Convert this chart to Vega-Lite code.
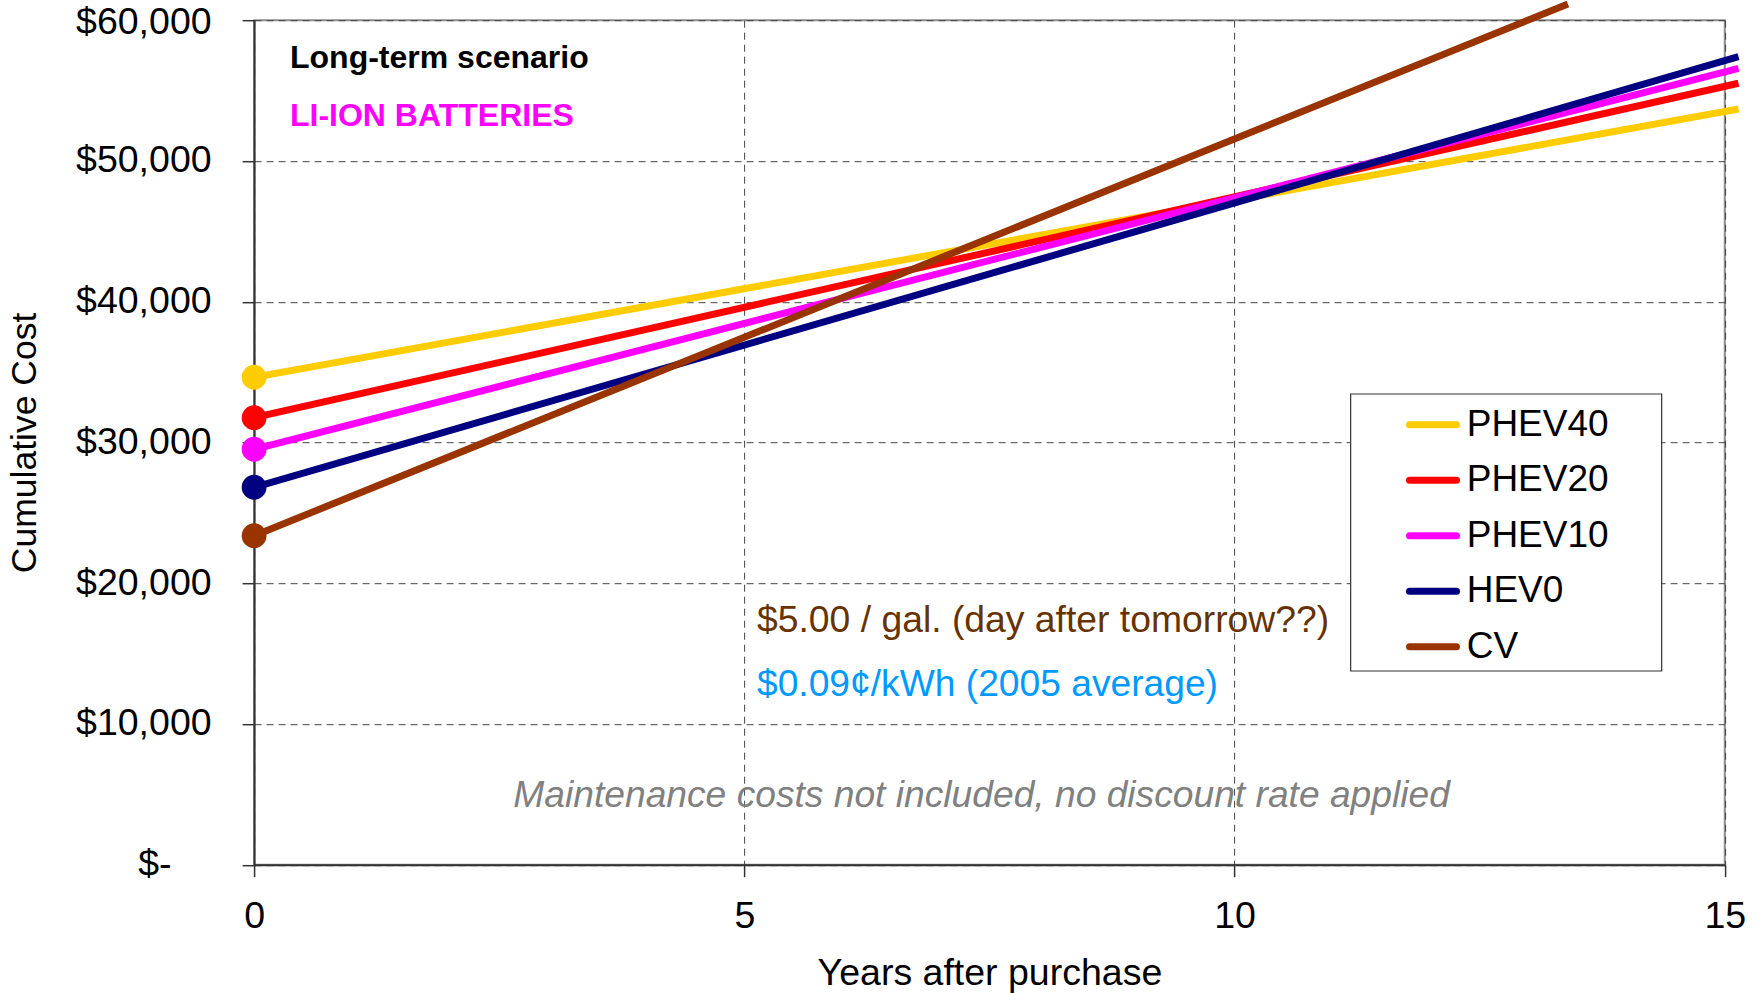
{
  "$schema": "https://vega.github.io/schema/vega-lite/v6.json",
  "width": 1470.7,
  "height": 844.5,
  "autosize": {"type": "none"},
  "padding": {"left": 254.1, "top": 20.2, "right": 38.2, "bottom": 128.3},
  "background": "white",
  "config": {
    "font": "Liberation Sans",
    "view": {"stroke": "#8c8c8c", "strokeWidth": 2},
    "axis": {
      "labelFont": "Liberation Sans",
      "titleFont": "Liberation Sans",
      "labelColor": "#000000",
      "titleColor": "#000000",
      "labelFontSize": 37.5,
      "titleFontWeight": "normal",
      "domainColor": "#333333",
      "domainWidth": 2,
      "tickColor": "#333333",
      "tickWidth": 1.5,
      "tickSize": 12,
      "grid": true,
      "gridColor": "#444444",
      "gridDash": [7, 5],
      "gridWidth": 1,
      "labelFlush": false,
      "labelOverlap": false
    }
  },
  "data": {
    "values": [
      {"vehicle": "PHEV40", "year": 0, "cost": 34630},
      {"vehicle": "PHEV40", "year": 15.14, "cost": 53690},
      {"vehicle": "PHEV20", "year": 0, "cost": 31760},
      {"vehicle": "PHEV20", "year": 15.14, "cost": 55520},
      {"vehicle": "PHEV10", "year": 0, "cost": 29515},
      {"vehicle": "PHEV10", "year": 15.14, "cost": 56580},
      {"vehicle": "HEV0", "year": 0, "cost": 26815},
      {"vehicle": "HEV0", "year": 15.14, "cost": 57410},
      {"vehicle": "CV", "year": 0, "cost": 23375},
      {"vehicle": "CV", "year": 13.4, "cost": 61150}
    ]
  },
  "layer": [
    {
      "data": {"values": [{}]},
      "mark": {"type": "rect", "fill": "#ffffff", "stroke": "#333333", "strokeWidth": 1.2},
      "encoding": {
        "x": {"datum": 11.184, "type": "quantitative"},
        "x2": {"datum": 14.356},
        "y": {"datum": 33442, "type": "quantitative"},
        "y2": {"datum": 13762}
      }
    },
    {
      "mark": {"type": "line", "strokeWidth": 7, "strokeJoin": "round", "clip": false},
      "encoding": {
        "x": {
          "field": "year",
          "type": "quantitative",
          "scale": {"domain": [0, 15], "nice": false, "zero": false},
          "axis": {
            "values": [0, 5, 10, 15],
            "format": "d",
            "title": "Years after purchase",
            "titleFontSize": 37.5,
            "labelPadding": 20.5,
            "titlePadding": 20
          }
        },
        "y": {
          "field": "cost",
          "type": "quantitative",
          "scale": {"domain": [0, 60000], "nice": false},
          "axis": {
            "values": [0, 10000, 20000, 30000, 40000, 50000, 60000],
            "labelExpr": "datum.value == 0 ? '$-' : '$' + format(datum.value, ',')",
            "labelPadding": {"condition": {"test": "datum.value == 0", "value": 71}, "value": 31},
            "labelOffset": {"condition": {"test": "datum.value == 60000", "value": 2}, "value": 0},
            "title": "Cumulative Cost",
            "titleFontSize": 35.5,
            "titlePadding": 33
          }
        },
        "color": {
          "field": "vehicle",
          "type": "nominal",
          "scale": {
            "domain": ["PHEV40", "PHEV20", "PHEV10", "HEV0", "CV"],
            "range": ["#FFCC00", "#FF0000", "#FF00FF", "#000080", "#993300"]
          },
          "legend": {
            "orient": "none",
            "legendX": 1151.9,
            "legendY": 377.5,
            "title": null,
            "padding": 0,
            "symbolType": "stroke",
            "symbolSize": 2209,
            "symbolStrokeWidth": 7,
            "symbolOffset": 0,
            "labelOffset": 6.7,
            "labelFont": "Liberation Sans",
            "labelFontSize": 37,
            "labelColor": "#000000",
            "labelLimit": 0,
            "rowPadding": 10.5,
            "encode": {"symbols": {"update": {"strokeCap": {"value": "round"}}}}
          }
        }
      }
    },
    {
      "transform": [{"filter": "datum.year == 0"}],
      "mark": {"type": "circle", "size": 616, "opacity": 1, "clip": false},
      "encoding": {
        "x": {"field": "year", "type": "quantitative"},
        "y": {"field": "cost", "type": "quantitative"},
        "color": {"field": "vehicle", "type": "nominal", "legend": null}
      }
    },
    {
      "data": {"values": [{}]},
      "mark": {"type": "text", "text": "Long-term scenario", "align": "left", "baseline": "middle", "fontSize": 32, "fontWeight": "bold", "color": "#000000"},
      "encoding": {"x": {"datum": 0.366}, "y": {"datum": 57300}}
    },
    {
      "data": {"values": [{}]},
      "mark": {"type": "text", "text": "LI-ION BATTERIES", "align": "left", "baseline": "middle", "fontSize": 32, "fontWeight": "bold", "color": "#FF00FF"},
      "encoding": {"x": {"datum": 0.366}, "y": {"datum": 53170}}
    },
    {
      "data": {"values": [{}]},
      "mark": {"type": "text", "text": "$5.00 / gal. (day after tomorrow??)", "align": "left", "baseline": "middle", "fontSize": 37.3, "color": "#663300"},
      "encoding": {"x": {"datum": 5.129}, "y": {"datum": 17336}}
    },
    {
      "data": {"values": [{}]},
      "mark": {"type": "text", "text": "$0.09¢/kWh (2005 average)", "align": "left", "baseline": "middle", "fontSize": 37.2, "color": "#0099FF"},
      "encoding": {"x": {"datum": 5.129}, "y": {"datum": 12782}}
    },
    {
      "data": {"values": [{}]},
      "mark": {"type": "text", "text": "Maintenance costs not included, no discount rate applied", "align": "center", "baseline": "middle", "fontSize": 37.2, "fontStyle": "italic", "color": "#808080"},
      "encoding": {"x": {"datum": 7.42}, "y": {"datum": 4881}}
    }
  ]
}
